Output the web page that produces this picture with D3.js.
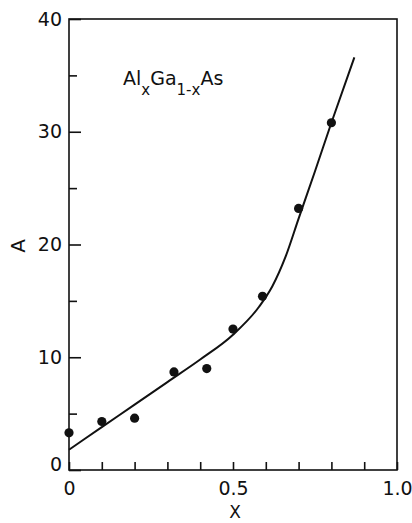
<!DOCTYPE html>
<html>
<head>
<meta charset="utf-8">
<script src="https://cdn.jsdelivr.net/npm/d3@7"></script>
<style>
  body { margin: 0; background: #fff; }
  svg text { font-family: "DejaVu Sans", sans-serif; fill: #111; }
</style>
</head>
<body>
<svg id="chart"></svg>
<script>
// Measured points of A against composition x
var pointX = [0, 0.1, 0.2, 0.32, 0.42, 0.5, 0.59, 0.7, 0.8];
var pointA = [3.3, 4.3, 4.6, 8.7, 9.0, 12.5, 15.4, 23.2, 30.8];

// Fitted curve
var curveX = [0, 0.1, 0.2, 0.3, 0.4, 0.5, 0.58, 0.62, 0.66, 0.7, 0.75, 0.8, 0.87];
var curveA = [1.8, 3.8, 5.8, 7.8, 9.8, 12.0, 14.5, 16.3, 18.9, 22.3, 26.5, 30.8, 36.6];

// Tick values and labels
var xTicks = [0, 0.1, 0.2, 0.3, 0.4, 0.5, 0.6, 0.7, 0.8, 0.9, 1.0];
var xLabels = {0: "0", 0.5: "0.5", 1: "1.0"};
var yMajor = [0, 10, 20, 30, 40];
var yMinor = [5, 15, 25, 35];

var width = 412, height = 523;
var plotLeft = 69, plotTop = 19, plotRight = 397, plotBottom = 470;

var svg = d3.select("#chart").attr("width", width).attr("height", height);

var x = d3.scaleLinear().domain([0, 1]).range([plotLeft, plotRight]);
var y = d3.scaleLinear().domain([0, 40]).range([plotBottom, plotTop]);

// Plot frame
svg.append("rect")
    .attr("x", plotLeft).attr("y", plotTop)
    .attr("width", plotRight - plotLeft).attr("height", plotBottom - plotTop)
    .attr("fill", "none").attr("stroke", "#111").attr("stroke-width", 1.6);

// x axis, ticks pointing inward
var xAxis = svg.append("g")
    .attr("transform", "translate(0," + plotBottom + ")")
    .call(d3.axisBottom(x).tickValues(xTicks).tickSize(-8).tickPadding(12)
        .tickFormat(function(d) { return xLabels[d] || ""; }));

// y axis, major ticks
var yAxis = svg.append("g")
    .attr("transform", "translate(" + plotLeft + ",0)")
    .call(d3.axisLeft(y).tickValues(yMajor).tickSize(-12).tickPadding(7));

// y axis, minor ticks
svg.append("g")
    .attr("transform", "translate(" + plotLeft + ",0)")
    .call(d3.axisLeft(y).tickValues(yMinor).tickSize(-8).tickFormat(""));

svg.selectAll(".domain").remove();
svg.selectAll(".tick line").attr("stroke", "#111").attr("stroke-width", 1.6);
svg.selectAll(".tick text")
    .style("font-family", "DejaVu Sans, sans-serif")
    .attr("font-size", 19).attr("fill", "#111");

// the zero label sits a little above the corner
yAxis.selectAll(".tick text").filter(function(d) { return d === 0; }).attr("dy", "0.0em");

// Fitted curve
var curveData = curveX.map(function(d, i) { return [d, curveA[i]]; });
var line = d3.line()
    .x(function(d) { return x(d[0]); })
    .y(function(d) { return y(d[1]); })
    .curve(d3.curveMonotoneX);

svg.append("path")
    .datum(curveData)
    .attr("d", line)
    .attr("fill", "none").attr("stroke", "#111").attr("stroke-width", 2);

// Data points
svg.selectAll("circle.pt")
    .data(pointX.map(function(d, i) { return [d, pointA[i]]; }))
    .enter().append("circle")
    .attr("class", "pt")
    .attr("cx", function(d) { return x(d[0]); })
    .attr("cy", function(d) { return y(d[1]); })
    .attr("r", 4.6)
    .attr("fill", "#111");

// Axis titles
svg.append("text")
    .attr("x", (plotLeft + plotRight) / 2 + 2).attr("y", 518)
    .attr("text-anchor", "middle").attr("font-size", 17)
    .text("X");

svg.append("text")
    .attr("transform", "translate(25,246) rotate(-90)")
    .attr("text-anchor", "middle").attr("font-size", 20)
    .text("A");

// Compound label
var title = svg.append("text")
    .attr("x", 123).attr("y", 85)
    .attr("font-size", 19);
title.append("tspan").text("Al");
title.append("tspan").attr("font-size", 15).attr("dy", 10).text("x");
title.append("tspan").attr("dy", -10).text("Ga");
title.append("tspan").attr("font-size", 15).attr("dy", 10).text("1-x");
title.append("tspan").attr("dy", -10).text("As");
</script>
</body>
</html>
